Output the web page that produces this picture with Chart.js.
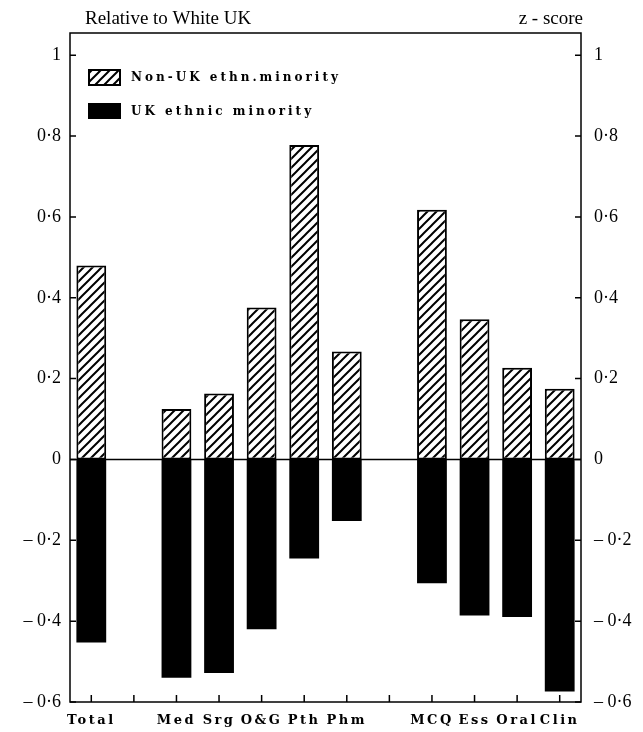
<!DOCTYPE html>
<html>
<head>
<meta charset="utf-8">
<script src="https://cdn.jsdelivr.net/npm/chart.js@4"></script>
<style>
  body { margin: 0; background: #fff; }
  #wrap { width: 643px; height: 732px; }
</style>
</head>
<body>
<div id="wrap"><canvas id="zChart" width="643" height="732"></canvas></div>
<script>
// categories ('' = gap between groups)
const categories = ['Total', '', 'Med', 'Srg', 'O&G', 'Pth', 'Phm', '', 'MCQ', 'Ess', 'Oral', 'Clin'];
const nonUkEthnic = [0.48, null, 0.125, 0.163, 0.376, 0.778, 0.267, null, 0.618, 0.347, 0.227, 0.175];
const ukEthnic = [-0.453, null, -0.54, -0.528, -0.42, -0.245, -0.152, null, -0.306, -0.386, -0.39, -0.574];
const yTicks = [-0.6, -0.4, -0.2, 0, 0.2, 0.4, 0.6, 0.8, 1];
const seriesNames = ['Non-UK ethn.minority', 'UK ethnic minority'];

function hatch() {
    const s = 9;
    const c = document.createElement('canvas');
    c.width = s; c.height = s;
    const g = c.getContext('2d');
    g.fillStyle = '#fff';
    g.fillRect(0, 0, s, s);
    g.strokeStyle = '#000';
    g.lineWidth = 2;
    g.beginPath();
    g.moveTo(-2, s + 2); g.lineTo(s + 2, -2);
    g.moveTo(-2, 2); g.lineTo(2, -2);
    g.moveTo(s - 2, s + 2); g.lineTo(s + 2, s - 2);
    g.stroke();
    return g.createPattern(c, 'repeat');
}

const ctx = document.getElementById('zChart').getContext('2d');
const hatchFill = hatch();

function fmt(v) {
    if (Math.abs(v) < 1e-9) return '0';
    if (v === 1) return '1';
    const s = Math.abs(v).toFixed(1).replace('.', '\u00B7');
    return (v < 0 ? '\u2013 ' : '') + s;
}

const decor = {
    id: 'decor',
    beforeDatasetsDraw(chart) {
        const { ctx, chartArea: a, scales } = chart;
        const y0 = scales.y.getPixelForValue(0);
        ctx.save();
        ctx.strokeStyle = '#000';
        ctx.lineWidth = 1.5;
        ctx.beginPath();
        ctx.moveTo(a.left, y0); ctx.lineTo(a.right, y0);
        ctx.stroke();
        ctx.restore();
    },
    afterDraw(chart) {
        const { ctx, chartArea: a, scales } = chart;
        ctx.save();
        ctx.strokeStyle = '#000';
        ctx.lineWidth = 1.5;
        ctx.strokeRect(a.left, a.top, a.right - a.left, a.bottom - a.top);

        // inward tick marks
        ctx.beginPath();
        yTicks.forEach(v => {
            const y = scales.y.getPixelForValue(v);
            ctx.moveTo(a.left, y); ctx.lineTo(a.left + 6, y);
            ctx.moveTo(a.right, y); ctx.lineTo(a.right - 6, y);
        });
        categories.forEach((c, i) => {
            const x = scales.x.getPixelForValue(i);
            ctx.moveTo(x, a.bottom); ctx.lineTo(x, a.bottom - 7);
        });
        ctx.stroke();

        // category labels
        ctx.fillStyle = '#000';
        ctx.font = '600 13px "DejaVu Serif"';
        ctx.letterSpacing = '2.5px';
        ctx.textAlign = 'center';
        ctx.textBaseline = 'middle';
        categories.forEach((c, i) => {
            if (c) ctx.fillText(c, scales.x.getPixelForValue(i), a.bottom + 19);
        });

        // legend
        ctx.textAlign = 'left';
        ctx.lineWidth = 2;
        ctx.fillStyle = hatchFill;
        ctx.fillRect(89, 70, 31, 15);
        ctx.strokeRect(89, 70, 31, 15);
        ctx.fillStyle = '#000';
        ctx.fillRect(88, 103, 33, 16);
        ctx.font = '600 12px "DejaVu Serif"';
        ctx.letterSpacing = '3px';
        ctx.fillText(seriesNames[0], 131, 78);
        ctx.fillText(seriesNames[1], 131, 112);

        // headings
        ctx.letterSpacing = '0px';
        ctx.font = '19px "Liberation Serif"';
        ctx.textBaseline = 'alphabetic';
        ctx.fillText('Relative to White UK', 85, 24);
        ctx.textAlign = 'right';
        ctx.fillText('z - score', 583, 24);
        ctx.restore();
    }
};

new Chart(ctx, {
    type: 'bar',
    data: {
        labels: categories,
        datasets: [{
            label: seriesNames[0],
            data: nonUkEthnic,
            backgroundColor: hatchFill,
            borderColor: '#000',
            borderWidth: 2,
            borderSkipped: false,
            barPercentage: 0.7,
            categoryPercentage: 1
        }, {
            label: seriesNames[1],
            data: ukEthnic,
            backgroundColor: '#000',
            borderColor: '#000',
            borderWidth: 0,
            barPercentage: 0.7,
            categoryPercentage: 1
        }]
    },
    options: {
        responsive: false,
        animation: false,
        devicePixelRatio: 1,
        layout: { padding: { top: 33, left: 0, right: 0, bottom: 0 } },
        plugins: {
            legend: { display: false },
            tooltip: { enabled: false }
        },
        scales: {
            x: {
                stacked: true,
                offset: true,
                grid: { display: false },
                border: { display: false },
                ticks: { display: false },
                afterFit: s => { s.height = 30; }
            },
            y: {
                stacked: true,
                position: 'left',
                min: -0.6,
                max: 1.055,
                grid: { display: false, drawTicks: false },
                border: { display: false },
                afterBuildTicks: s => { s.ticks = yTicks.map(v => ({ value: v })); },
                ticks: {
                    padding: 9,
                    color: '#000',
                    font: { family: 'Liberation Serif', size: 18 },
                    callback: v => fmt(v)
                },
                afterFit: s => { s.width = 70; }
            },
            y2: {
                position: 'right',
                min: -0.6,
                max: 1.055,
                grid: { display: false, drawTicks: false },
                border: { display: false },
                afterBuildTicks: s => { s.ticks = yTicks.map(v => ({ value: v })); },
                ticks: {
                    padding: 13,
                    color: '#000',
                    font: { family: 'Liberation Serif', size: 18 },
                    callback: v => fmt(v)
                },
                afterFit: s => { s.width = 62; }
            }
        }
    },
    plugins: [decor]
});
</script>
</body>
</html>
